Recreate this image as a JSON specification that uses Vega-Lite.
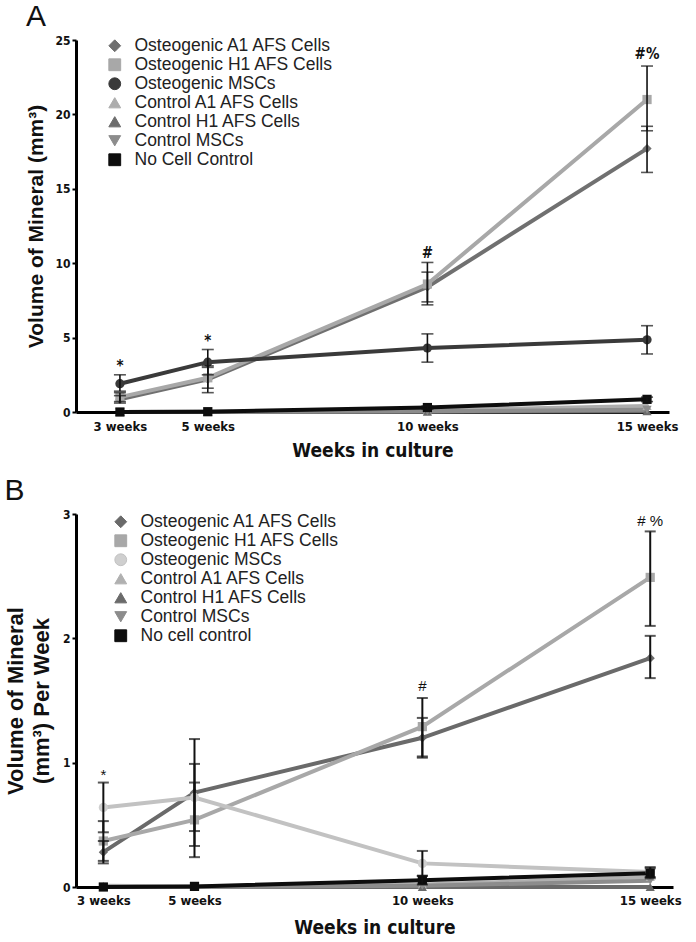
{
  "$schema": "https://vega.github.io/schema/vega-lite/v6.json",
  "padding": {"left": 4, "top": 2, "right": 10, "bottom": 4},
  "background": "white",
  "spacing": 16,
  "resolve": {"scale": {"color": "independent", "shape": "independent", "stroke": "independent"}},
  "config": {
    "view": {"stroke": null},
    "font": "Liberation Sans",
    "axis": {
      "grid": false,
      "domainColor": "black",
      "domainWidth": 3,
      "tickColor": "black",
      "tickWidth": 2,
      "labelColor": "#111",
      "labelFont": "'DejaVu Sans Condensed', 'Liberation Sans', sans-serif",
      "labelFontWeight": "bold",
      "titleFont": "'DejaVu Sans Condensed', 'Liberation Sans', sans-serif",
      "titleFontWeight": "bold",
      "titleColor": "#111"
    },
    "legend": {
      "labelFont": "Liberation Sans",
      "labelFontSize": 17.5,
      "labelColor": "#222",
      "labelLimit": 400,
      "symbolSize": 140,
      "symbolStrokeWidth": 1,
      "rowPadding": 0,
      "labelOffset": 11,
      "padding": 0
    },
    "title": {"font": "Liberation Sans", "fontSize": 30, "fontWeight": "normal", "color": "#111", "anchor": "start", "frame": "bounds"}
  },
  "datasets": {
    "topMeans": [
      {"week": 3, "series": "Osteogenic A1 AFS Cells", "value": 0.85},
      {"week": 5, "series": "Osteogenic A1 AFS Cells", "value": 2.2},
      {"week": 10, "series": "Osteogenic A1 AFS Cells", "value": 8.4},
      {"week": 15, "series": "Osteogenic A1 AFS Cells", "value": 17.7},
      {"week": 3, "series": "Osteogenic H1 AFS Cells", "value": 1.0},
      {"week": 5, "series": "Osteogenic H1 AFS Cells", "value": 2.3},
      {"week": 10, "series": "Osteogenic H1 AFS Cells", "value": 8.6},
      {"week": 15, "series": "Osteogenic H1 AFS Cells", "value": 21.0},
      {"week": 3, "series": "Osteogenic MSCs", "value": 1.9},
      {"week": 5, "series": "Osteogenic MSCs", "value": 3.35},
      {"week": 10, "series": "Osteogenic MSCs", "value": 4.3},
      {"week": 15, "series": "Osteogenic MSCs", "value": 4.85},
      {"week": 3, "series": "Control A1 AFS Cells", "value": 0.0},
      {"week": 5, "series": "Control A1 AFS Cells", "value": 0.02},
      {"week": 10, "series": "Control A1 AFS Cells", "value": 0.1},
      {"week": 15, "series": "Control A1 AFS Cells", "value": 0.4},
      {"week": 3, "series": "Control H1 AFS Cells", "value": 0.0},
      {"week": 5, "series": "Control H1 AFS Cells", "value": 0.0},
      {"week": 10, "series": "Control H1 AFS Cells", "value": 0.02},
      {"week": 15, "series": "Control H1 AFS Cells", "value": 0.05},
      {"week": 3, "series": "Control MSCs", "value": 0.0},
      {"week": 5, "series": "Control MSCs", "value": 0.01},
      {"week": 10, "series": "Control MSCs", "value": 0.05},
      {"week": 15, "series": "Control MSCs", "value": 0.15},
      {"week": 3, "series": "No Cell Control", "value": 0.0},
      {"week": 5, "series": "No Cell Control", "value": 0.02},
      {"week": 10, "series": "No Cell Control", "value": 0.3},
      {"week": 15, "series": "No Cell Control", "value": 0.85}
    ],
    "topErr": [
      {"week": 3, "lo": 1.4, "hi": 2.5},
      {"week": 3, "lo": 0.7, "hi": 1.3},
      {"week": 3, "lo": 0.6, "hi": 1.1},
      {"week": 5, "lo": 2.5, "hi": 4.2},
      {"week": 5, "lo": 1.6, "hi": 3.0},
      {"week": 5, "lo": 1.3, "hi": 3.1},
      {"week": 10, "lo": 3.35, "hi": 5.25},
      {"week": 10, "lo": 7.2, "hi": 10.05},
      {"week": 10, "lo": 7.4, "hi": 9.4},
      {"week": 10, "lo": 0.2, "hi": 0.4},
      {"week": 15, "lo": 3.9, "hi": 5.8},
      {"week": 15, "lo": 18.9, "hi": 23.25},
      {"week": 15, "lo": 16.1, "hi": 19.2},
      {"week": 15, "lo": 0.7, "hi": 1.0}
    ],
    "topNotes": [
      {"week": 3, "y": 3.1, "label": "*"},
      {"week": 5, "y": 4.8, "label": "*"},
      {"week": 10, "y": 10.7, "label": "#"},
      {"week": 15, "y": 24.05, "label": "#%"}
    ],
    "botMeans": [
      {"week": 3, "series": "Osteogenic A1 AFS Cells", "value": 0.28},
      {"week": 5, "series": "Osteogenic A1 AFS Cells", "value": 0.76},
      {"week": 10, "series": "Osteogenic A1 AFS Cells", "value": 1.2},
      {"week": 15, "series": "Osteogenic A1 AFS Cells", "value": 1.84},
      {"week": 3, "series": "Osteogenic H1 AFS Cells", "value": 0.37},
      {"week": 5, "series": "Osteogenic H1 AFS Cells", "value": 0.54},
      {"week": 10, "series": "Osteogenic H1 AFS Cells", "value": 1.29},
      {"week": 15, "series": "Osteogenic H1 AFS Cells", "value": 2.49},
      {"week": 3, "series": "Osteogenic MSCs", "value": 0.64},
      {"week": 5, "series": "Osteogenic MSCs", "value": 0.72},
      {"week": 10, "series": "Osteogenic MSCs", "value": 0.19},
      {"week": 15, "series": "Osteogenic MSCs", "value": 0.12},
      {"week": 3, "series": "Control A1 AFS Cells", "value": 0.01},
      {"week": 5, "series": "Control A1 AFS Cells", "value": 0.005},
      {"week": 10, "series": "Control A1 AFS Cells", "value": 0.02},
      {"week": 15, "series": "Control A1 AFS Cells", "value": 0.08},
      {"week": 3, "series": "Control H1 AFS Cells", "value": 0.0},
      {"week": 5, "series": "Control H1 AFS Cells", "value": 0.0},
      {"week": 10, "series": "Control H1 AFS Cells", "value": 0.0},
      {"week": 15, "series": "Control H1 AFS Cells", "value": 0.0},
      {"week": 3, "series": "Control MSCs", "value": 0.0},
      {"week": 5, "series": "Control MSCs", "value": 0.0},
      {"week": 10, "series": "Control MSCs", "value": 0.01},
      {"week": 15, "series": "Control MSCs", "value": 0.05},
      {"week": 3, "series": "No cell control", "value": 0.0},
      {"week": 5, "series": "No cell control", "value": 0.005},
      {"week": 10, "series": "No cell control", "value": 0.055},
      {"week": 15, "series": "No cell control", "value": 0.11}
    ],
    "botErr": [
      {"week": 3, "lo": 0.44, "hi": 0.84},
      {"week": 3, "lo": 0.21, "hi": 0.53},
      {"week": 3, "lo": 0.19, "hi": 0.37},
      {"week": 5, "lo": 0.33, "hi": 1.19},
      {"week": 5, "lo": 0.45, "hi": 0.99},
      {"week": 5, "lo": 0.24, "hi": 0.84},
      {"week": 10, "lo": 1.05, "hi": 1.52},
      {"week": 10, "lo": 1.04, "hi": 1.36},
      {"week": 10, "lo": 0.09, "hi": 0.29},
      {"week": 10, "lo": 0.02, "hi": 0.09},
      {"week": 15, "lo": 2.1, "hi": 2.86},
      {"week": 15, "lo": 1.68, "hi": 2.02},
      {"week": 15, "lo": 0.08, "hi": 0.16},
      {"week": 15, "lo": 0.07, "hi": 0.15}
    ],
    "botNotes": [
      {"week": 3, "y": 0.9, "label": "*"},
      {"week": 10, "y": 1.62, "label": "#"},
      {"week": 15, "y": 2.94, "label": "# %"}
    ]
  },
  "vconcat": [
    {
      "title": {"text": "A", "offset": 2},
      "width": 593,
      "height": 372,
      "layer": [
        {
          "data": {"name": "topMeans"},
          "mark": {"type": "line", "strokeWidth": 4},
          "encoding": {
            "x": {"field": "week", "type": "quantitative", "scale": {"domain": [2, 15.5], "nice": false, "zero": false},
              "axis": {"values": [3, 5, 10, 15], "labelExpr": "datum.value + ' weeks'", "tickSize": 0, "labelPadding": 8, "labelFontSize": 13, "title": "Weeks in culture", "titleFontSize": 19, "titlePadding": 8}},
            "y": {"field": "value", "type": "quantitative", "scale": {"domain": [0, 25], "nice": false},
              "axis": {"values": [0, 5, 10, 15, 20, 25], "tickSize": 4, "labelPadding": 2, "labelFontSize": 12, "title": "Volume of Mineral (mm³)", "titleFont": "Liberation Sans", "titleFontSize": 21, "titlePadding": 8}},
            "stroke": {"field": "series", "type": "nominal",
              "scale": {"domain": ["Osteogenic A1 AFS Cells", "Osteogenic H1 AFS Cells", "Osteogenic MSCs", "Control A1 AFS Cells", "Control H1 AFS Cells", "Control MSCs", "No Cell Control"],
                "range": ["#707070", "#a8a8a8", "#3a3a3a", "#adadad", "#6c6c6c", "#8c8c8c", "#0d0d0d"]},
              "legend": {"title": null, "orient": "none", "legendX": 30, "legendY": -3}}
          }
        },
        {
          "data": {"name": "topMeans"},
          "mark": {"type": "point", "filled": true, "size": 85, "opacity": 1},
          "encoding": {
            "x": {"field": "week", "type": "quantitative"},
            "y": {"field": "value", "type": "quantitative"},
            "color": {"field": "series", "type": "nominal",
              "scale": {"domain": ["Osteogenic A1 AFS Cells", "Osteogenic H1 AFS Cells", "Osteogenic MSCs", "Control A1 AFS Cells", "Control H1 AFS Cells", "Control MSCs", "No Cell Control"],
                "range": ["#707070", "#a8a8a8", "#3a3a3a", "#adadad", "#6c6c6c", "#8c8c8c", "#0d0d0d"]},
              "legend": {"title": null, "orient": "none", "legendX": 30, "legendY": -3}},
            "shape": {"field": "series", "type": "nominal",
              "scale": {"domain": ["Osteogenic A1 AFS Cells", "Osteogenic H1 AFS Cells", "Osteogenic MSCs", "Control A1 AFS Cells", "Control H1 AFS Cells", "Control MSCs", "No Cell Control"],
                "range": ["diamond", "square", "circle", "triangle-up", "triangle-up", "triangle-down", "square"]},
              "legend": {"title": null, "orient": "none", "legendX": 30, "legendY": -3}}
          }
        },
        {
          "data": {"name": "topErr"},
          "mark": {"type": "rule", "color": "#111", "strokeWidth": 1.6},
          "encoding": {"x": {"field": "week", "type": "quantitative"}, "y": {"field": "lo", "type": "quantitative"}, "y2": {"field": "hi"}}
        },
        {
          "data": {"name": "topErr"},
          "mark": {"type": "tick", "orient": "horizontal", "color": "#111", "size": 12, "thickness": 1.6},
          "encoding": {"x": {"field": "week", "type": "quantitative"}, "y": {"field": "lo", "type": "quantitative"}}
        },
        {
          "data": {"name": "topErr"},
          "mark": {"type": "tick", "orient": "horizontal", "color": "#111", "size": 12, "thickness": 1.6},
          "encoding": {"x": {"field": "week", "type": "quantitative"}, "y": {"field": "hi", "type": "quantitative"}}
        },
        {
          "data": {"name": "topNotes"},
          "mark": {"type": "text", "font": "'DejaVu Sans Condensed', 'Liberation Sans', sans-serif", "fontWeight": "bold", "fontSize": 15, "color": "#111", "baseline": "middle"},
          "encoding": {"x": {"field": "week", "type": "quantitative"}, "y": {"field": "y", "type": "quantitative"}, "text": {"field": "label"}}
        }
      ]
    },
    {
      "title": {"text": "B", "offset": 2},
      "width": 597,
      "height": 373,
      "layer": [
        {
          "data": {"name": "botMeans"},
          "mark": {"type": "line", "strokeWidth": 4},
          "encoding": {
            "x": {"field": "week", "type": "quantitative", "scale": {"domain": [2.4, 15.5], "nice": false, "zero": false},
              "axis": {"values": [3, 5, 10, 15], "labelExpr": "datum.value + ' weeks'", "tickSize": 0, "labelPadding": 7, "labelFontSize": 13, "title": "Weeks in culture", "titleFontSize": 19, "titlePadding": 11}},
            "y": {"field": "value", "type": "quantitative", "scale": {"domain": [0, 3], "nice": false},
              "axis": {"values": [0, 1, 2, 3], "format": "d", "tickSize": 4, "labelPadding": 2, "labelFontSize": 12, "title": ["Volume of Mineral", "(mm³) Per Week"], "titleFont": "Liberation Sans", "titleFontSize": 22, "titlePadding": 9, "titleLineHeight": 26}},
            "stroke": {"field": "series", "type": "nominal",
              "scale": {"domain": ["Osteogenic A1 AFS Cells", "Osteogenic H1 AFS Cells", "Osteogenic MSCs", "Control A1 AFS Cells", "Control H1 AFS Cells", "Control MSCs", "No cell control"],
                "range": ["#6a6a6a", "#a8a8a8", "#c2c2c2", "#b0b0b0", "#6a6a6a", "#8c8c8c", "#0d0d0d"]},
              "legend": {"title": null, "orient": "none", "legendX": 36, "legendY": -1}}
          }
        },
        {
          "data": {"name": "botMeans"},
          "mark": {"type": "point", "filled": true, "size": 85, "opacity": 1},
          "encoding": {
            "x": {"field": "week", "type": "quantitative"},
            "y": {"field": "value", "type": "quantitative"},
            "color": {"field": "series", "type": "nominal",
              "scale": {"domain": ["Osteogenic A1 AFS Cells", "Osteogenic H1 AFS Cells", "Osteogenic MSCs", "Control A1 AFS Cells", "Control H1 AFS Cells", "Control MSCs", "No cell control"],
                "range": ["#6a6a6a", "#a8a8a8", "#cfcfcf", "#b0b0b0", "#6a6a6a", "#8c8c8c", "#0d0d0d"]},
              "legend": {"title": null, "orient": "none", "legendX": 36, "legendY": -1}},
            "shape": {"field": "series", "type": "nominal",
              "scale": {"domain": ["Osteogenic A1 AFS Cells", "Osteogenic H1 AFS Cells", "Osteogenic MSCs", "Control A1 AFS Cells", "Control H1 AFS Cells", "Control MSCs", "No cell control"],
                "range": ["diamond", "square", "circle", "triangle-up", "triangle-up", "triangle-down", "square"]},
              "legend": {"title": null, "orient": "none", "legendX": 36, "legendY": -1}}
          }
        },
        {
          "data": {"name": "botErr"},
          "mark": {"type": "rule", "color": "#111", "strokeWidth": 2},
          "encoding": {"x": {"field": "week", "type": "quantitative"}, "y": {"field": "lo", "type": "quantitative"}, "y2": {"field": "hi"}}
        },
        {
          "data": {"name": "botErr"},
          "mark": {"type": "tick", "orient": "horizontal", "color": "#111", "size": 11, "thickness": 2},
          "encoding": {"x": {"field": "week", "type": "quantitative"}, "y": {"field": "lo", "type": "quantitative"}}
        },
        {
          "data": {"name": "botErr"},
          "mark": {"type": "tick", "orient": "horizontal", "color": "#111", "size": 11, "thickness": 2},
          "encoding": {"x": {"field": "week", "type": "quantitative"}, "y": {"field": "hi", "type": "quantitative"}}
        },
        {
          "data": {"name": "botNotes"},
          "mark": {"type": "text", "font": "Liberation Sans", "fontSize": 15, "color": "#111", "baseline": "middle"},
          "encoding": {"x": {"field": "week", "type": "quantitative"}, "y": {"field": "y", "type": "quantitative"}, "text": {"field": "label"}}
        }
      ]
    }
  ]
}
